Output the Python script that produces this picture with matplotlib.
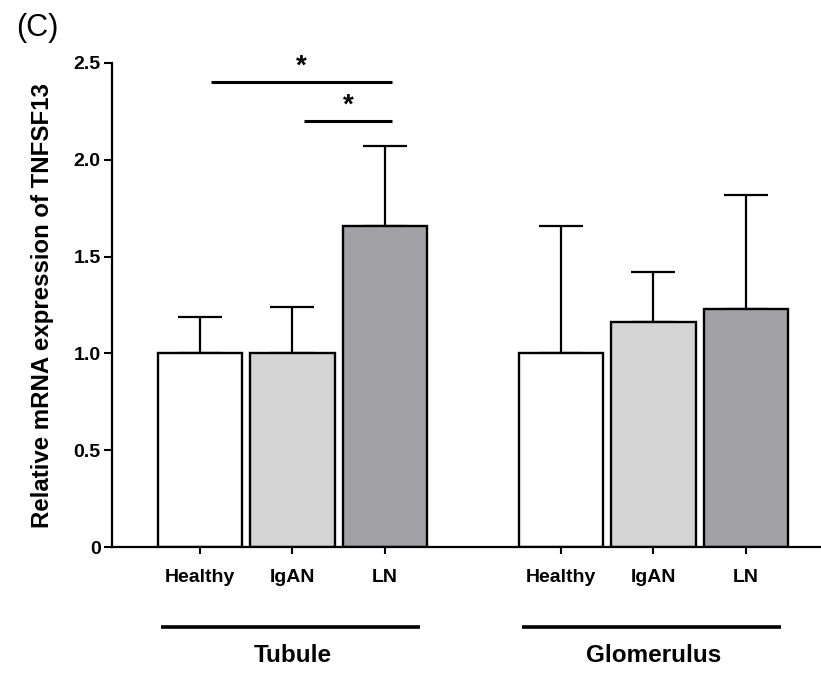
import numpy as np
import matplotlib
matplotlib.use('Agg')
import matplotlib.pyplot as plt
import matplotlib.transforms as mtransforms

plt.rcParams['font.family'] = ['Liberation Sans', 'DejaVu Sans']

# values
groups = ['Tubule', 'Glomerulus']
conditions = ['Healthy', 'IgAN', 'LN']
tubule_mean = [1.0, 1.0, 1.66]
tubule_err = [0.19, 0.24, 0.41]
glom_mean = [1.0, 1.16, 1.23]
glom_err = [0.66, 0.26, 0.59]
sig_pairs = [(0, 2), (1, 2)]
sig_heights = [2.40, 2.20]
sig_labels = ['*', '*']
yticks = [0, 0.5, 1.0, 1.5, 2.0, 2.5]
ytick_labels = ['0', '0.5', '1.0', '1.5', '2.0', '2.5']

colors = ['white', '#d4d4d4', '#a2a1a6']
group_offset = [0, 3.9]

fig = plt.figure(figsize=(8.21, 6.73), dpi=100)
ax = fig.add_axes([0.1364, 0.1872, 0.8636, 0.7192])

means = [tubule_mean, glom_mean]
errs = [tubule_err, glom_err]
xpos_all = []
for g in range(len(groups)):
    xpos = np.arange(len(conditions)) + group_offset[g]
    xpos_all.extend(xpos)
    ax.bar(xpos, means[g], width=0.91, color=colors, edgecolor='black',
           linewidth=1.7, zorder=2)
    ax.errorbar(xpos, means[g], yerr=[np.zeros(len(conditions)), errs[g]],
                fmt='none', ecolor='black', elinewidth=1.6, capsize=15.5,
                capthick=1.6, zorder=1)

# significance brackets (tubule)
for (i, j), h, lab in zip(sig_pairs, sig_heights, sig_labels):
    x1 = i + 0.12
    x2 = j + 0.08
    ax.plot([x1, x2], [h, h], color='black', lw=2.2, solid_capstyle='butt', clip_on=False)
    ax.text((x1 + x2) / 2, h + 0.012, lab, ha='center', va='bottom',
            fontsize=20, fontweight='bold')

ax.set_xlim(-0.95, 6.71)
ax.set_ylim(0, 2.5)
ax.set_xticks(xpos_all)
ax.set_xticklabels(conditions * 2, fontsize=14, fontweight='bold')
ax.set_yticks(yticks)
ax.set_yticklabels(ytick_labels, fontsize=14, fontweight='bold')
ax.tick_params(axis='x', length=5, width=1.5, pad=11)
ax.tick_params(axis='y', length=6, width=1.5, pad=2)
for s in ['top', 'right']:
    ax.spines[s].set_visible(False)
for s in ['left', 'bottom']:
    ax.spines[s].set_linewidth(1.6)

ax.set_ylabel('Relative mRNA expression of TNFSF13', fontsize=17.3,
              fontweight='bold', labelpad=14)

# group labels under the axis
trans = mtransforms.blended_transform_factory(ax.transData, ax.transAxes)
for g in range(len(groups)):
    c = group_offset[g] + 1
    ax.plot([c - 1.42, c + 1.38], [-0.165, -0.165], color='black', lw=2.6,
            transform=trans, clip_on=False, solid_capstyle='butt')
    ax.text(c, -0.225, groups[g], transform=trans, ha='center', va='center',
            fontsize=17.5, fontweight='bold')

fig.text(0.02, 0.958, '(C)', fontsize=22, ha='left', va='center')

fig.savefig('out.png', dpi=100, facecolor='white')
